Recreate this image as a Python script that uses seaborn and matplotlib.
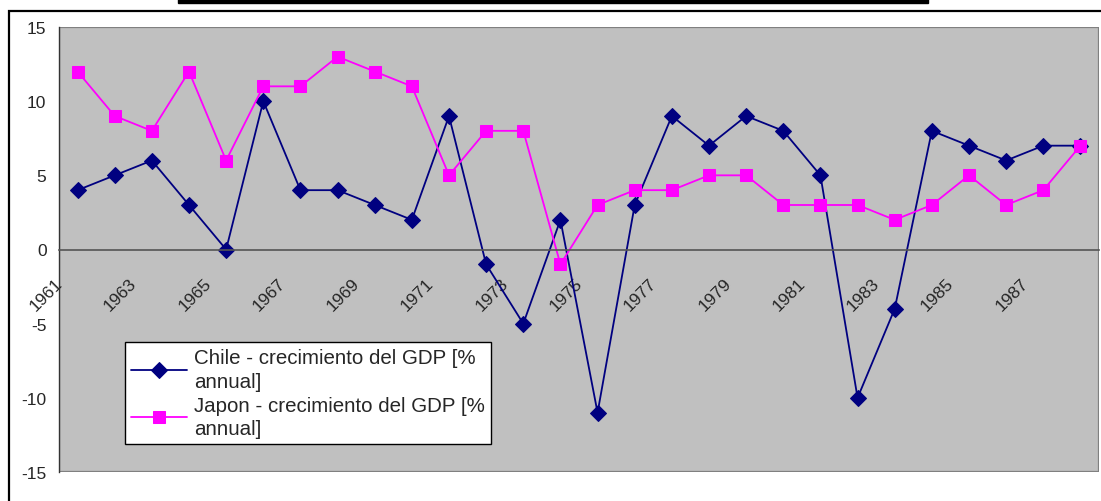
# Crecimiento del GDP: Chile vs Japon, estilo grafico de Excel

import seaborn as sns
import matplotlib.pyplot as plt
import matplotlib.transforms as mtransforms
from matplotlib.patches import Rectangle
import pandas as pd

years = list(range(1961, 1989))
chile = [4, 5, 6, 3, 0, 10, 4, 4, 3, 2, 9, -1, -5, 2, -11, 3, 9, 7, 9, 8,
         5, -10, -4, 8, 7, 6, 7, 7]
japon = [12, 9, 8, 12, 6, 11, 11, 13, 12, 11, 5, 8, 8, -1, 3, 4, 4, 5, 5, 3,
         3, 3, 2, 3, 5, 3, 4, 7]
label_chile = "Chile - crecimiento del GDP [%\nannual]"
label_japon = "Japon - crecimiento del GDP [%\nannual]"
y_ticks = [-15, -10, -5, 0, 5, 10, 15]
x_labels = years[::2]

df = pd.DataFrame({
    "year": years * 2,
    "value": chile + japon,
    "serie": [label_chile] * len(years) + [label_japon] * len(years),
})

sns.set_style("white")
plt.rcParams["font.family"] = ["Liberation Sans", "DejaVu Sans"]
plt.rcParams["axes.unicode_minus"] = False

fig = plt.figure(figsize=(11.01, 5.02), dpi=100)
ax = fig.add_axes([59 / 1101, 29 / 502, 1040 / 1101, 445 / 502])
ax.set_facecolor("#c0c0c0")

colors = {label_chile: "#000080", label_japon: "#ff00ff"}
sns.lineplot(data=df, x="year", y="value", hue="serie", style="serie",
             palette=colors, markers={label_chile: "D", label_japon: "s"},
             dashes=False, markersize=8, linewidth=1.3, ax=ax)
for line in ax.lines:
    line.set_markeredgecolor(line.get_color())

ax.set_xlim(years[0] - 0.5, years[-1] + 0.5)
ax.set_ylim(-15, 15)
ax.set_xlabel("")
ax.set_ylabel("")

# eje de categorias cruzando en 0
ax.spines["bottom"].set_position(("data", 0))
ax.spines["bottom"].set_color("#555555")
ax.spines["bottom"].set_linewidth(1.2)
for s in ["top", "right"]:
    ax.spines[s].set_visible(False)
ax.spines["left"].set_color("#333333")
ax.spines["left"].set_linewidth(1.0)
ax.add_patch(Rectangle((0, 0), 1, 1, transform=ax.transAxes, fill=False,
                       edgecolor="#808080", lw=1.6, zorder=0.5))

ax.set_xticks(x_labels)
ax.set_xticklabels([str(y) for y in x_labels], rotation=45, ha="right",
                   va="top", rotation_mode="anchor", fontsize=12.5)
ax.set_xticks([y + 0.5 for y in years[:-1]], minor=True)
ax.tick_params(axis="x", which="major", length=0, pad=0)
ax.tick_params(axis="x", which="minor", length=5, direction="out",
               color="#444444", width=1)
offset = mtransforms.ScaledTranslation(-0.23, -0.26, fig.dpi_scale_trans)
for lbl in ax.get_xticklabels():
    lbl.set_transform(lbl.get_transform() + offset)

ax.set_yticks(y_ticks)
ax.set_yticklabels([str(v) for v in y_ticks], fontsize=12.5)
ax.tick_params(axis="y", length=5, direction="out", color="#444444",
               width=1, pad=4)

handles, labels = ax.get_legend_handles_labels()
leg = ax.legend(handles, labels, loc="upper left",
                bbox_to_anchor=(66 / 1040, 130 / 445), borderaxespad=0,
                fontsize=14.8, handlelength=2.7, handletextpad=0.35,
                labelspacing=0.25, frameon=True, fancybox=False,
                framealpha=1, edgecolor="black", borderpad=0.3)
leg.get_frame().set_linewidth(1.0)
for t in leg.get_texts():
    t.set_linespacing(1.3)
for h in leg.legend_handles:
    h.set_markeredgecolor(h.get_color())

# marco del grafico y barra del titulo recortado
fig.add_artist(Rectangle((9 / 1101, -0.1), 1.2, (490 / 502) + 0.1,
                         transform=fig.transFigure, fill=False,
                         edgecolor="black", lw=1.6))
fig.add_artist(Rectangle((178 / 1101, 1 - 4 / 502), 750 / 1101, 0.02,
                         transform=fig.transFigure, color="black"))

fig.savefig("out.png", dpi=100)
